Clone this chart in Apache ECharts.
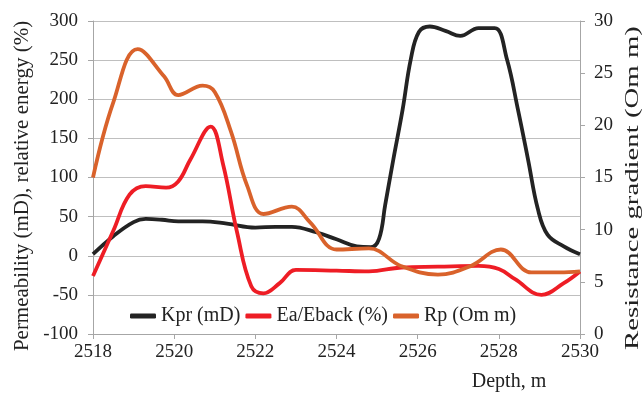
<!DOCTYPE html>
<html>
<head>
<meta charset="utf-8">
<script src="https://cdn.jsdelivr.net/npm/echarts@6/dist/echarts.min.js"></script>
<style>
html,body{margin:0;padding:0;background:#fff;}
#chart{width:644px;height:393px;}
</style>
</head>
<body>
<div id="chart"></div>
<script>
// Depth ticks
const depthTicks = [2518, 2520, 2522, 2524, 2526, 2528, 2530];
const leftTicks = [-100, -50, 0, 50, 100, 150, 200, 250, 300];
const rightTicks = [0, 5, 10, 15, 20, 25, 30];

// Kpr (mD), left axis
const kprDepth = [2518, 2518.5, 2519, 2519.3, 2519.7, 2520.1, 2520.7, 2521.3, 2522, 2522.5, 2522.9, 2523.5, 2524, 2524.5, 2524.85, 2525.05, 2525.2, 2525.4, 2525.63, 2525.83, 2526.03, 2526.3, 2526.7, 2527.05, 2527.5, 2527.9, 2528.2, 2528.47, 2528.72, 2528.96, 2529.2, 2529.6, 2530];
const kprValue = [2, 25, 43, 47, 46, 44, 44, 41, 36, 37, 37, 30, 21, 12, 11, 22, 65, 123, 187, 251, 286, 293, 287, 281, 291, 291, 251, 187, 123, 60, 27, 12, 2];

// Ea/Eback (%), left axis
const eaDepth = [2518, 2518.5, 2518.9, 2519.3, 2519.8, 2520.1, 2520.4, 2520.9, 2521.2, 2521.55, 2521.9, 2522.2, 2522.6, 2523, 2524, 2524.8, 2525.6, 2526.5, 2527.5, 2528, 2528.4, 2529.05, 2529.6, 2530];
const eaValue = [-26, 32, 78, 89, 87, 95, 123, 165, 118, 30, -39, -48, -35, -18, -19, -20, -15, -14, -13, -17, -30, -50, -35, -20];

// Rp (Om m), right axis
const rpDepth = [2518, 2518.5, 2519.1, 2519.75, 2520.1, 2520.7, 2521, 2521.4, 2521.8, 2522.2, 2522.9, 2523.35, 2524, 2524.8, 2525.6, 2526.5, 2527.3, 2528.05, 2528.8, 2529.5, 2530];
const rpValue = [15, 22.2, 27.3, 24.7, 22.9, 23.8, 23.2, 19.4, 14.2, 11.5, 12.2, 10.7, 8.1, 8.2, 6.5, 5.7, 6.5, 8.1, 5.9, 5.9, 6.0];

const seriesNames = ['Kpr (mD)', 'Ea/Eback (%)', 'Rp (Om m)'];
const colors = ['#232323', '#ee1d25', '#d9622b'];

const pair = (d, v) => d.map((x, i) => [x, v[i]]);
const FONT = "'Liberation Serif', 'Times New Roman', serif";
const TXT = '#222';

const chart = echarts.init(document.getElementById('chart'), null, {renderer: 'canvas'});
chart.setOption({
  animation: false,
  backgroundColor: '#fff',
  grid: {left: 93, right: 64, top: 21, bottom: 59, containLabel: false},
  legend: {
    left: 125, top: 301,
    itemWidth: 26, itemHeight: 5, itemGap: 5,
    icon: 'roundRect',
    textStyle: {fontFamily: FONT, fontSize: 20, color: TXT},
    data: seriesNames
  },
  xAxis: {
    type: 'value', min: 2518, max: 2530, interval: 2,
    axisLine: {show: true, onZero: false, lineStyle: {color: '#a6a6a6', width: 1}},
    axisTick: {show: true, length: 5, lineStyle: {color: '#a6a6a6'}},
    axisLabel: {fontFamily: FONT, fontSize: 19, color: TXT, margin: 9,
      formatter: v => depthTicks.includes(v) ? String(v) : ''},
    splitLine: {show: false}
  },
  yAxis: [
    {
      type: 'value', min: -100, max: 300, interval: 50,
      axisLine: {show: true, lineStyle: {color: '#a6a6a6', width: 1}},
      axisTick: {show: true, length: 5, lineStyle: {color: '#a6a6a6'}},
      axisLabel: {fontFamily: FONT, fontSize: 19, color: TXT, margin: 15,
        formatter: v => leftTicks.includes(v) ? String(v) : ''},
      splitLine: {show: true, lineStyle: {color: '#bfbfbf', width: 1}}
    },
    {
      type: 'value', min: 0, max: 30, interval: 5,
      axisLine: {show: true, lineStyle: {color: '#a6a6a6', width: 1}},
      axisTick: {show: true, length: 5, lineStyle: {color: '#a6a6a6'}},
      axisLabel: {fontFamily: FONT, fontSize: 19, color: TXT, margin: 14,
        formatter: v => rightTicks.includes(v) ? String(v) : ''},
      splitLine: {show: false}
    }
  ],
  graphic: [
    {type: 'text', x: 22, y: 186, rotation: Math.PI / 2,
      style: {text: 'Permeability (mD), relative energy (%)', font: '21px ' + FONT, fill: TXT, align: 'center', verticalAlign: 'middle'}},
    {type: 'text', x: 633, y: 188, rotation: Math.PI / 2, scaleX: 1.6, scaleY: 1,
      style: {text: 'Resistance gradient (Om m)', font: '18px ' + FONT, fill: TXT, align: 'center', verticalAlign: 'middle'}},
    {type: 'text', x: 509, y: 382,
      style: {text: 'Depth, m', font: '20px ' + FONT, fill: TXT, align: 'center', verticalAlign: 'middle'}}
  ],
  series: [
    {name: seriesNames[0], type: 'line', yAxisIndex: 0, smooth: 0.4, symbol: 'none',
      lineStyle: {color: colors[0], width: 3.8}, itemStyle: {color: colors[0]}, data: pair(kprDepth, kprValue), z: 3},
    {name: seriesNames[1], type: 'line', yAxisIndex: 0, smooth: 0.4, symbol: 'none',
      lineStyle: {color: colors[1], width: 3.8}, itemStyle: {color: colors[1]}, data: pair(eaDepth, eaValue), z: 4},
    {name: seriesNames[2], type: 'line', yAxisIndex: 1, smooth: 0.4, symbol: 'none',
      lineStyle: {color: colors[2], width: 3.8}, itemStyle: {color: colors[2]}, data: pair(rpDepth, rpValue), z: 5}
  ]
});
</script>
</body>
</html>
